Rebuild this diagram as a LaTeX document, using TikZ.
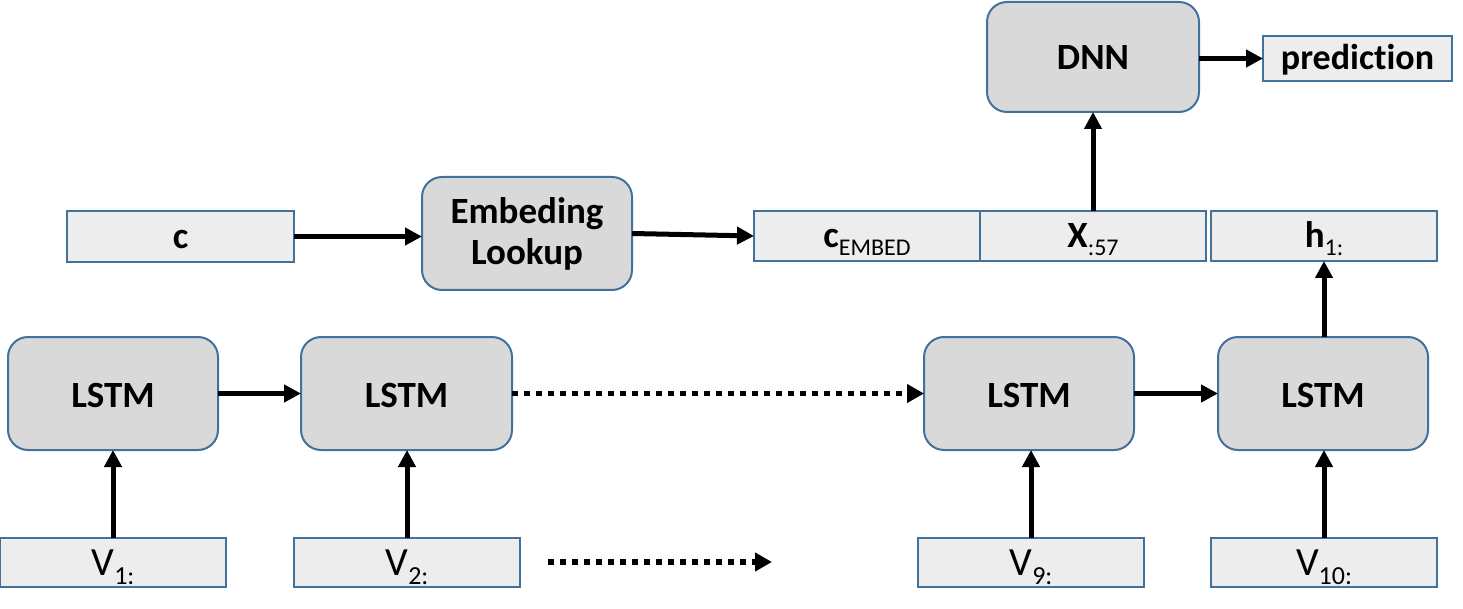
\documentclass[tikz,border=0pt]{standalone}
\usepackage{fontspec}
\setmainfont{Carlito}[RawFeature={-liga;-dlig}]
\usetikzlibrary{arrows.meta}
\definecolor{bordblue}{HTML}{41719C}
\definecolor{roundfill}{HTML}{D9D9D9}
\definecolor{rectfill}{HTML}{EDEDED}
\newcommand{\sbig}{\fontsize{37}{41}\selectfont}
\newcommand{\ssub}[1]{\raisebox{-8pt}{\fontsize{24}{24}\selectfont\mdseries #1}}
\newcommand{\vsub}[1]{\raisebox{-9pt}{\fontsize{26}{26}\selectfont\mdseries #1}}
\tikzset{
  rbox/.style={draw=bordblue, line width=2pt, fill=roundfill, rounded corners=20pt,
    inner sep=0pt, outer sep=0pt, align=center, font=\sbig\bfseries},
  sbox/.style={draw=bordblue, line width=2pt, fill=rectfill,
    inner sep=0pt, outer sep=0pt, align=center, font=\sbig\bfseries,
    text height=32pt, text depth=8pt},
  vbox/.style={sbox, font=\fontsize{40}{44}\selectfont\mdseries,
    text height=35pt, text depth=9pt},
  arr/.style={line width=5pt, -{Triangle[length=17pt,width=17pt]}},
  dotarr/.style={line width=5.5pt, dash pattern=on 5.5pt off 6.5pt, -{Triangle[length=17pt,width=18pt]}}
}
\begin{document}
\begin{tikzpicture}[x=1pt,y=-1pt]
\useasboundingbox (0,0) rectangle (1463,609);
% top row
\node[sbox, minimum width=227pt, minimum height=51pt] (c) at (180.5,236.5) {c};
\node[rbox, minimum width=210pt, minimum height=113pt] (emb) at (527,233.5) {Embeding\\Lookup};
\node[sbox, minimum width=226pt, minimum height=50pt] (ce) at (867,236) {c\ssub{EMBED}};
\node[sbox, minimum width=226pt, minimum height=50pt] (x57) at (1093,236) {X\ssub{:57}};
\node[sbox, minimum width=226pt, minimum height=50pt] (h1) at (1324,236) {h\ssub{1:}};
\node[rbox, minimum width=212pt, minimum height=110pt, text height=26pt, text depth=0pt] (dnn) at (1093,57) {DNN};
\node[sbox, minimum width=189pt, minimum height=45pt, font=\fontsize{36}{40}\selectfont\bfseries,
  text height=30pt, text depth=8pt] (pred) at (1357.5,58.5) {prediction};
% LSTMs
\node[rbox, minimum width=210pt, minimum height=113pt, text height=28pt, text depth=0pt] (l1) at (113,393.5) {LSTM};
\node[rbox, minimum width=211pt, minimum height=113pt, text height=28pt, text depth=0pt] (l2) at (406.5,393.5) {LSTM};
\node[rbox, minimum width=210pt, minimum height=113pt, text height=28pt, text depth=0pt] (l3) at (1029,393.5) {LSTM};
\node[rbox, minimum width=210pt, minimum height=113pt, text height=28pt, text depth=0pt] (l4) at (1323,393.5) {LSTM};
% inputs
\node[vbox, minimum width=226pt, minimum height=49pt] (v1) at (113,562.5) {V\vsub{1:}};
\node[vbox, minimum width=226pt, minimum height=49pt] (v2) at (407,562.5) {V\vsub{2:}};
\node[vbox, minimum width=226pt, minimum height=49pt] (v9) at (1031,562.5) {V\vsub{9:}};
\node[vbox, minimum width=226pt, minimum height=49pt] (v10) at (1324,562.5) {V\vsub{10:}};
\coordinate (d1) at (548,562);
\coordinate (d2) at (772,562);
% connectors
\draw[arr] (c.east) -- (c.east -| emb.west);
\draw[arr] (emb.east) -- (ce.west);
\draw[arr] (x57.north) -- (x57.north |- dnn.south);
\draw[arr] (dnn.east |- pred.west) -- (pred.west);
\draw[arr] (l1.east) -- (l2.west);
\draw[dotarr] (l2.east) -- (l3.west);
\draw[arr] (l3.east) -- (l4.west);
\draw[arr] (v1.north) -- (v1.north |- l1.south);
\draw[arr] (v2.north) -- (v2.north |- l2.south);
\draw[arr] (v9.north) -- (v9.north |- l3.south);
\draw[arr] (v10.north) -- (v10.north |- l4.south);
\draw[arr] (l4.north -| h1.south) -- (h1.south);
\draw[dotarr] (d1) -- (d2);
\end{tikzpicture}
\end{document}
